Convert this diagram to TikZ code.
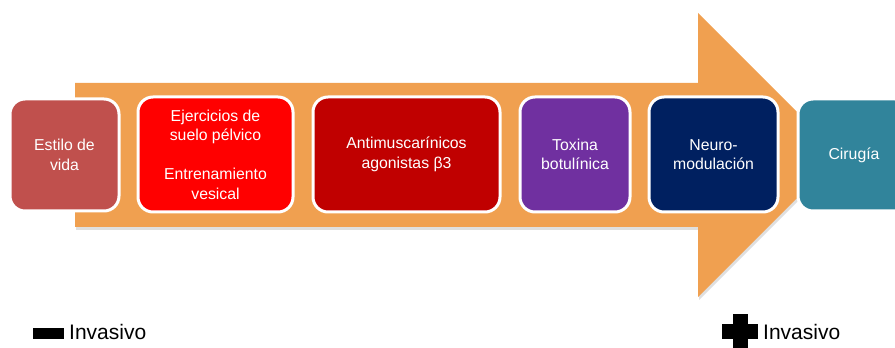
\documentclass[tikz,border=0pt]{standalone}
\usepackage{fontspec}
\setmainfont{Liberation Sans}
\usetikzlibrary{shadows}
\definecolor{arroworange}{RGB}{240,160,80}
\definecolor{cEstilo}{RGB}{192,80,77}
\definecolor{cEjer}{RGB}{255,0,0}
\definecolor{cAnti}{RGB}{192,0,0}
\definecolor{cToxina}{RGB}{112,48,160}
\definecolor{cNeuro}{RGB}{0,32,96}
\definecolor{cCirugia}{RGB}{49,132,155}
\tikzset{
  stepbox/.style={draw=white, line width=3pt, rounded corners=15pt, inner sep=0pt,
    text=white, align=center, font=\fontsize{15.8}{19.5}\selectfont},
  legendtext/.style={anchor=base west, inner sep=0pt, font=\fontsize{21}{25}\selectfont}
}
\begin{document}
\begin{tikzpicture}[x=1pt,y=1pt]
\useasboundingbox (0,0) rectangle (895,348);
% big arrow
\fill[arroworange, drop shadow={opacity=0.25, shadow xshift=1pt, shadow yshift=-3pt}]
  (75,265) -- (698,265) -- (698,335) -- (840,193) -- (698,51) -- (698,121) -- (75,121) -- cycle;
% boxes
\node[stepbox, fill=cEstilo, minimum width=109pt, minimum height=112pt] (estilo) at (64.5,193) {Estilo de\\vida};
\node[stepbox, fill=cEjer, minimum width=155pt, minimum height=115pt] (ejer) at (215.5,193.5) {Ejercicios de\\suelo pélvico\\[19.5pt]Entrenamiento\\vesical};
\node[stepbox, fill=cAnti, minimum width=187pt, minimum height=115pt] (anti) at (406.5,193.5) {Antimuscarínicos\\agonistas β3};
\node[stepbox, fill=cToxina, minimum width=110pt, minimum height=115pt] (toxina) at (575,193.5) {Toxina\\botulínica};
\node[stepbox, fill=cNeuro, minimum width=129pt, minimum height=115pt] (neuro) at (713.5,193.5) {Neuro-\\modulación};
\node[stepbox, fill=cCirugia, minimum width=112pt, minimum height=112pt] (cirugia) at (854,193) {Cirugía};
% legend
\fill[black] (33,9) rectangle (64,20);
\node[legendtext] (menos) at (69,8) {Invasivo};
\fill[black] (722,8.5) rectangle (758,23.5);
\fill[black] (732.5,-2) rectangle (747.5,34);
\node[legendtext] (mas) at (763,8) {Invasivo};
\end{tikzpicture}
\end{document}
